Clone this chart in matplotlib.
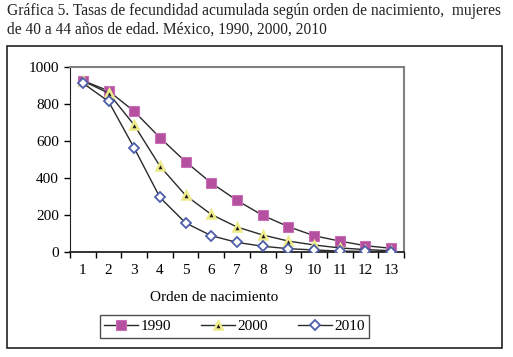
import matplotlib.pyplot as plt
from matplotlib.patches import Rectangle

## Datos ##################################################################

orden = list(range(1, 14))
t1990 = [927, 871, 760, 618, 488, 373, 279, 198, 137, 88, 59, 34, 20]
t2000 = [925, 859, 686, 464, 306, 203, 135, 92, 59, 38, 22, 13, 7]
t2010 = [913, 814, 562, 295, 157, 88, 52, 31, 18, 11, 5, 3, 2]

titulo = (u'Gráfica 5. Tasas de fecundidad acumulada según orden de nacimiento,  mujeres\n'
          u'de 40 a 44 años de edad. México, 1990, 2000, 2010')

plt.rcParams['font.family'] = ['Liberation Serif', 'DejaVu Serif']

W, H = 513, 357
fig = plt.figure(figsize=(W / 100., H / 100.), dpi=100)

fig.text(7 / W, 1 - 3 / H, titulo, ha='left', va='top', fontsize=11.2,
         linespacing=1.2, color='#222222')

# marco exterior
fig.patches.append(Rectangle((7 / W, 1 - 348 / H), 495 / W, 302 / H,
                             transform=fig.transFigure, fill=False,
                             edgecolor='#222222', lw=1.2))

ax = fig.add_axes([70 / W, 1 - 252 / H, 334 / W, 185 / H])

ax.plot(orden, t1990, '-', color='#2a2a2a', lw=1, marker='s', ms=7.5,
        mfc='#B4509F', mec='#C870B5', mew=0.8, label='1990', zorder=3)
ax.plot(orden, t2000, '-', color='#2a2a2a', lw=1, marker='^', ms=6,
        mfc='#1a1a1a', mec='#EDEB8A', mew=1.8, label='2000', zorder=3)
ax.plot(orden, t2010, '-', color='#2a2a2a', lw=1, marker='D', ms=5,
        mfc='white', mec='#4E5EAA', mew=1.3, label='2010', zorder=3)

ax.set_xlim(0.5, 13.5)
ax.set_ylim(0, 1000)
ax.set_yticks(range(0, 1001, 200))
ax.set_xticks(orden)
ax.set_xticks([x + 0.5 for x in range(0, 14)], minor=True)
ax.tick_params(axis='x', which='major', length=0, pad=9, labelsize=11)
ax.tick_params(axis='x', which='minor', length=4, direction='out', width=1)
ax.tick_params(axis='y', length=4, direction='out', width=1, labelsize=11, pad=4)

for s in ['top', 'right']:
    ax.spines[s].set_color('#808080')
    ax.spines[s].set_linewidth(1.5)
ax.spines['left'].set_color('#222222')
ax.spines['bottom'].set_color('#222222')
ax.spines['bottom'].set_linewidth(1.3)

ax.set_xlabel('Orden de nacimiento', fontsize=11, labelpad=10, x=0.431)

leg = fig.legend(loc='center', bbox_to_anchor=((101 + 368) / 2. / W, 1 - 326.5 / H),
                 ncol=3, frameon=True, fancybox=False, fontsize=11,
                 handlelength=2.2, columnspacing=2.0, borderpad=0.3,
                 handletextpad=0.15, borderaxespad=0)
leg.get_frame().set_edgecolor('#222222')
leg.get_frame().set_linewidth(1)

fig.savefig('out.png', dpi=100)
